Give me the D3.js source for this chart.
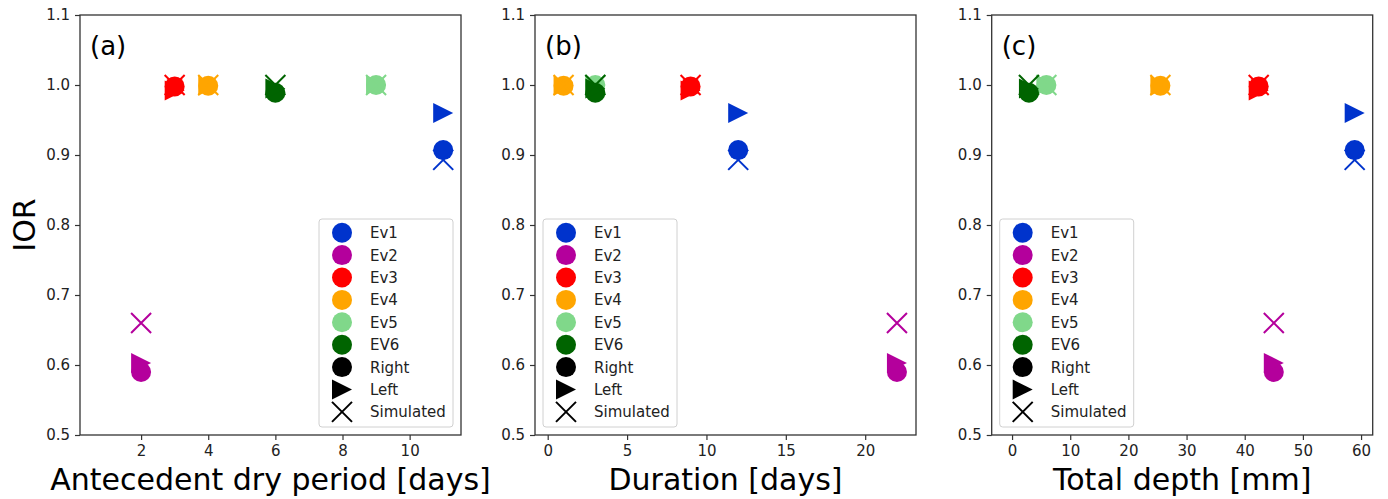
<!DOCTYPE html>
<html>
<head>
<meta charset="utf-8">
<script src="https://cdn.jsdelivr.net/npm/d3@7"></script>
<style>
  body { margin: 0; background: #fff; }
  text { font-family: "DejaVu Sans", sans-serif; }
</style>
</head>
<body>
<div id="chart"></div>
<script>
// events and their colours
var events = ["Ev1", "Ev2", "Ev3", "Ev4", "Ev5", "EV6"]
var eventColors = ["#0033cc", "#b4009c", "#ff0000", "#ffa500", "#80d88a", "#006400"]

// x values for the three panels
var dryPeriod = [11, 2, 3, 4, 9, 6]
var duration = [12, 22, 9, 1, 3, 3]
var totalDepth = [58.9, 45, 42.4, 25.5, 5.9, 2.9]

// IOR values (same for every panel)
var iorRight = [0.907, 0.59, 0.998, 0.999, 1.0, 0.989]
var iorLeft = [0.96, 0.603, 0.992, 0.999, 1.0, 0.995]
var iorSimulated = [0.893, 0.66, 1.0, 1.0, 1.0, 1.0]

var yTicks = [0.5, 0.6, 0.7, 0.8, 0.9, 1.0, 1.1]
var markerTypes = ["Right", "Left", "Simulated"]

var panels = [
	{ tag: "(a)", xlabel: "Antecedent dry period [days]", xs: dryPeriod, domain: [0.18, 11.53], ticks: [2, 4, 6, 8, 10], left: 80, legendRight: true },
	{ tag: "(b)", xlabel: "Duration [days]", xs: duration, domain: [-0.8, 23.2], ticks: [0, 5, 10, 15, 20], left: 535, legendRight: false },
	{ tag: "(c)", xlabel: "Total depth [mm]", xs: totalDepth, domain: [-3.5, 62.0], ticks: [0, 10, 20, 30, 40, 50, 60], left: 991.7, legendRight: false }
]

function draw() {
	var width = 1388,
		height = 499,
		plotW = 381,
		plotTop = 15,
		plotBottom = 435,
		R = 10

	var svg = d3.select("#chart")
		.append("svg")
		.attr("width", width)
		.attr("height", height)

	var y = d3.scaleLinear().domain([0.5, 1.1]).range([plotBottom, plotTop])

	// marker path builders
	function trianglePath(cx, cy) {
		return "M" + (cx + R) + "," + cy + "L" + (cx - R) + "," + (cy - R) + "L" + (cx - R) + "," + (cy + R) + "Z"
	}
	function crossPath(cx, cy) {
		return "M" + (cx - R) + "," + (cy - R) + "L" + (cx + R) + "," + (cy + R) +
			"M" + (cx - R) + "," + (cy + R) + "L" + (cx + R) + "," + (cy - R)
	}

	function drawMarker(g, type, cx, cy, color) {
		if (type == "Right") {
			g.append("circle").attr("cx", cx).attr("cy", cy).attr("r", R).attr("fill", color)
		} else if (type == "Left") {
			g.append("path").attr("d", trianglePath(cx, cy)).attr("fill", color)
		} else {
			g.append("path").attr("d", crossPath(cx, cy))
				.attr("stroke", color).attr("stroke-width", 2).attr("fill", "none")
		}
	}

	function styleAxis(a) {
		a.select(".domain").remove()
		a.selectAll("line").attr("stroke", "#333").attr("stroke-width", 1.2)
		a.selectAll("text").attr("font-size", 15).attr("fill", "#222")
	}

	panels.forEach(function(p) {
		var x = d3.scaleLinear().domain(p.domain).range([p.left, p.left + plotW])
		var g = svg.append("g")

		// axes
		g.append("g")
			.attr("transform", "translate(0," + plotBottom + ")")
			.call(d3.axisBottom(x).tickValues(p.ticks).tickFormat(d3.format("d")).tickSize(5).tickPadding(5))
			.call(styleAxis)
		g.append("g")
			.attr("transform", "translate(" + p.left + ",0)")
			.call(d3.axisLeft(y).tickValues(yTicks).tickFormat(d3.format(".1f")).tickSize(5).tickPadding(5))
			.call(styleAxis)

		// frame
		g.append("rect")
			.attr("x", p.left).attr("y", plotTop)
			.attr("width", plotW).attr("height", plotBottom - plotTop)
			.attr("fill", "none").attr("stroke", "#333").attr("stroke-width", 1.3)

		// points: each event draws right circle, left triangle, simulated cross
		events.forEach(function(ev, i) {
			var cx = x(p.xs[i])
			drawMarker(g, "Right", cx, y(iorRight[i]), eventColors[i])
			drawMarker(g, "Left", cx, y(iorLeft[i]), eventColors[i])
			drawMarker(g, "Simulated", cx, y(iorSimulated[i]), eventColors[i])
		})

		// panel tag
		g.append("text")
			.attr("x", p.left + 10).attr("y", plotTop + 40)
			.attr("font-size", 26)
			.text(p.tag)

		// x label
		g.append("text")
			.attr("x", p.left + plotW / 2).attr("y", 490)
			.attr("text-anchor", "middle")
			.attr("font-size", 30)
			.text(p.xlabel)

		// legend
		var items = events.map(function(e, i) { return { label: e, type: "Right", color: eventColors[i] } })
			.concat(markerTypes.map(function(t) { return { label: t, type: t, color: "#000" } }))
		var lw = 134, lh = 208, step = 22.4
		var lx = p.legendRight ? p.left + plotW - 8 - lw : p.left + 8
		var ly = 219
		var lg = g.append("g")
		lg.append("rect")
			.attr("x", lx).attr("y", ly).attr("width", lw).attr("height", lh)
			.attr("rx", 3).attr("fill", "#fff").attr("fill-opacity", 0.8)
			.attr("stroke", "#d0d0d0").attr("stroke-width", 1)
		items.forEach(function(it, k) {
			var cy = ly + 13.7 + k * step
			drawMarker(lg, it.type, lx + 23, cy, it.color)
			lg.append("text")
				.attr("x", lx + 51).attr("y", cy + 5.5)
				.attr("font-size", 15).attr("fill", "#222")
				.text(it.label)
		})
	})

	// y label
	svg.append("text")
		.attr("transform", "translate(35,225) rotate(-90)")
		.attr("text-anchor", "middle")
		.attr("font-size", 30)
		.text("IOR")
}

draw()
</script>
</body>
</html>
